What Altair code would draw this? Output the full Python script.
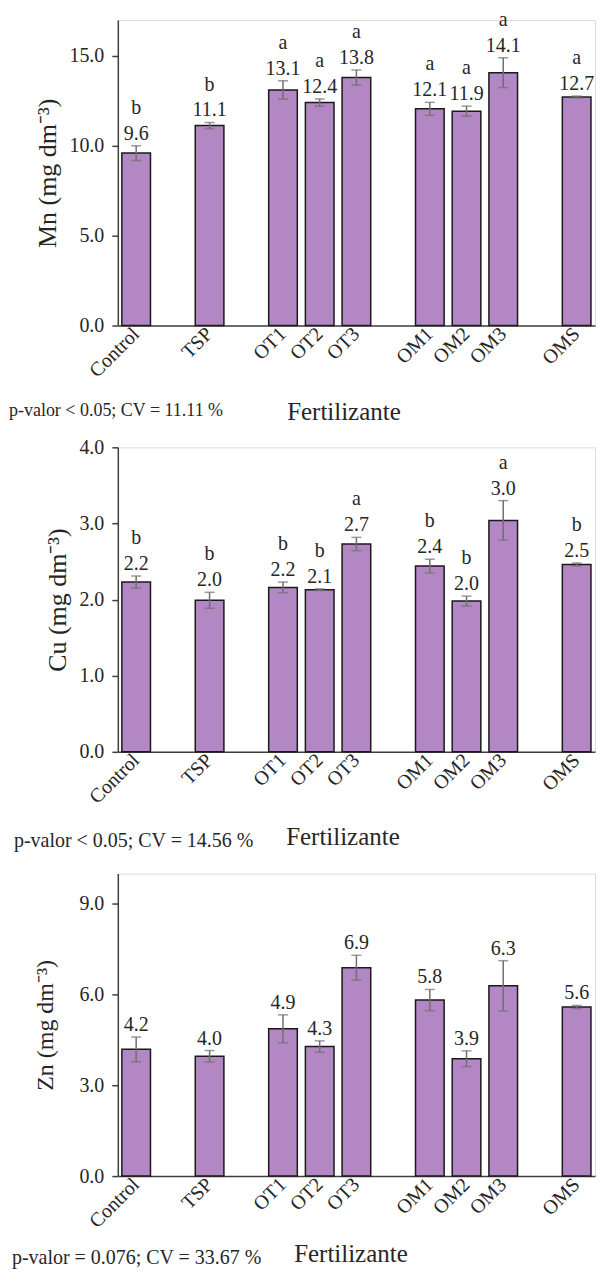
import altair as alt
import pandas as pd

# ---------------- data ----------------
treatments = ["Control", "TSP", "OT1", "OT2", "OT3", "OM1", "OM2", "OM3", "OMS"]
# spacer slots (blank labels) create the gaps between groups
slot_order = ["Control", " ", "TSP", "  ", "OT1", "OT2", "OT3", "   ",
              "OM1", "OM2", "OM3", "    ", "OMS"]

mn_mean = [9.60, 11.13, 13.11, 12.41, 13.80, 12.06, 11.93, 14.07, 12.72]
mn_err = [0.41, 0.17, 0.51, 0.20, 0.42, 0.36, 0.28, 0.83, 0.05]
mn_letters = ["b", "b", "a", "a", "a", "a", "a", "a", "a"]
mn_ticks = [0, 5, 10, 15]

cu_mean = [2.23, 1.99, 2.16, 2.13, 2.73, 2.44, 1.98, 3.04, 2.46]
cu_err = [0.08, 0.105, 0.07, 0.01, 0.087, 0.09, 0.065, 0.26, 0.02]
cu_letters = ["b", "b", "b", "b", "a", "b", "b", "a", "b"]
cu_ticks = [0, 1, 2, 3, 4]

zn_mean = [4.19, 3.96, 4.87, 4.28, 6.89, 5.82, 3.88, 6.29, 5.59]
zn_err = [0.41, 0.19, 0.46, 0.19, 0.41, 0.35, 0.26, 0.83, 0.05]
zn_letters = ["", "", "", "", "", "", "", "", ""]
zn_ticks = [0, 3, 6, 9]

mn_title = "Mn (mg dm⁻³)"
cu_title = "Cu (mg dm⁻³)"
zn_title = "Zn (mg dm⁻³)"
x_title = "Fertilizante"
mn_note = "p-valor < 0.05; CV = 11.11 %"
cu_note = "p-valor < 0.05; CV = 14.56 %"
zn_note = "p-valor = 0.076; CV = 33.67 %"

# ---------------- style ----------------
FONT = "Liberation Serif"
TEXT = "#262626"
AXIS = "#404040"
BAR_FILL = "#B386C4"
BAR_STROKE = "#1a1a1a"
ERR = "#707070"
W = 478


def panel(mean, err, letters, ymax, ticks, ytitle, ytitle_size, ytitle_x,
          note, note_size, note_x, note_y, fert_x, fert_y, height):
    df = pd.DataFrame({"trat": treatments, "mean": mean, "err": err,
                       "letter": letters})
    df["lo"] = df["mean"] - df["err"]
    df["hi"] = df["mean"] + df["err"]

    x = alt.X(
        "trat:N",
        scale=alt.Scale(domain=slot_order, paddingInner=0.22, paddingOuter=0.11),
        axis=alt.Axis(
            title=x_title, titleFont=FONT, titleFontSize=25,
            titleFontWeight="normal", titleColor=TEXT,
            titleX=fert_x, titleY=fert_y, titleBaseline="alphabetic",
            titleAlign="center",
            labelFont=FONT, labelFontSize=20, labelColor=TEXT,
            labelAngle=-45, labelAlign="right", labelBaseline="middle",
            labelPadding=5, labelOverlap=False, labelLimit=0,
            ticks=False, domainColor=AXIS, domainWidth=1.5, grid=False,
        ),
    )
    yaxis = alt.Axis(
        title=ytitle, titleFont=FONT, titleFontSize=ytitle_size,
        titleFontWeight="normal", titleColor=TEXT,
        titleX=ytitle_x, titleY=height / 2, titleAngle=270,
        titleBaseline="middle", titleAlign="center",
        values=ticks, format=".1f",
        labelFont=FONT, labelFontSize=20, labelColor=TEXT, labelPadding=8,
        tickSize=6, tickWidth=1.5, tickColor=AXIS,
        domainColor=AXIS, domainWidth=1.5, grid=False,
    )
    yscale = alt.Scale(domain=[0, ymax], nice=False, zero=True)

    def y(field):
        return alt.Y(field, scale=yscale, axis=yaxis)

    base = alt.Chart(df)
    bars = base.mark_bar(fill=BAR_FILL, stroke=BAR_STROKE, strokeWidth=1.5).encode(
        x=x, y=y("mean:Q"))
    rule = base.mark_rule(color=ERR, strokeWidth=1.5).encode(
        x=x, y=y("lo:Q"), y2="hi:Q")
    cap_lo = base.mark_tick(color=ERR, thickness=1.5, size=10).encode(
        x=x, y=y("lo:Q"))
    cap_hi = base.mark_tick(color=ERR, thickness=1.5, size=10).encode(
        x=x, y=y("hi:Q"))
    values = base.mark_text(font=FONT, fontSize=20, color=TEXT,
                            baseline="alphabetic", dy=-6).encode(
        x=x, y=y("hi:Q"), text=alt.Text("mean:Q", format=".1f"))
    lets = base.mark_text(font=FONT, fontSize=20, color=TEXT,
                          baseline="alphabetic", dy=-32).encode(
        x=x, y=y("hi:Q"), text="letter:N")
    note_layer = alt.Chart(pd.DataFrame({"t": [note]})).mark_text(
        font=FONT, fontSize=note_size, color=TEXT, align="left",
        baseline="alphabetic").encode(
        x=alt.value(note_x), y=alt.value(height + note_y), text="t:N")

    return alt.layer(bars, rule, cap_lo, cap_hi, values, lets, note_layer).properties(
        width=W, height=height)


p1 = panel(mn_mean, mn_err, mn_letters, 17, mn_ticks, mn_title, 26, -70,
           mn_note, 18, -109, 91, 226, 94, 306)
p2 = panel(cu_mean, cu_err, cu_letters, 4, cu_ticks, cu_title, 26, -60,
           cu_note, 20, -104, 95, 225, 93, 305)
p3 = panel(zn_mean, zn_err, zn_letters, 10, zn_ticks, zn_title, 24, -72,
           zn_note, 20, -106, 88, 233, 86, 303)

chart = alt.vconcat(p1, p2, p3, spacing=122, bounds="flush").properties(
    padding={"left": 0, "top": 0, "right": 0, "bottom": -1}
).configure_view(stroke=None).configure(background="white")

chart.save("out.html", embed_options={"renderer": "svg", "actions": False})
